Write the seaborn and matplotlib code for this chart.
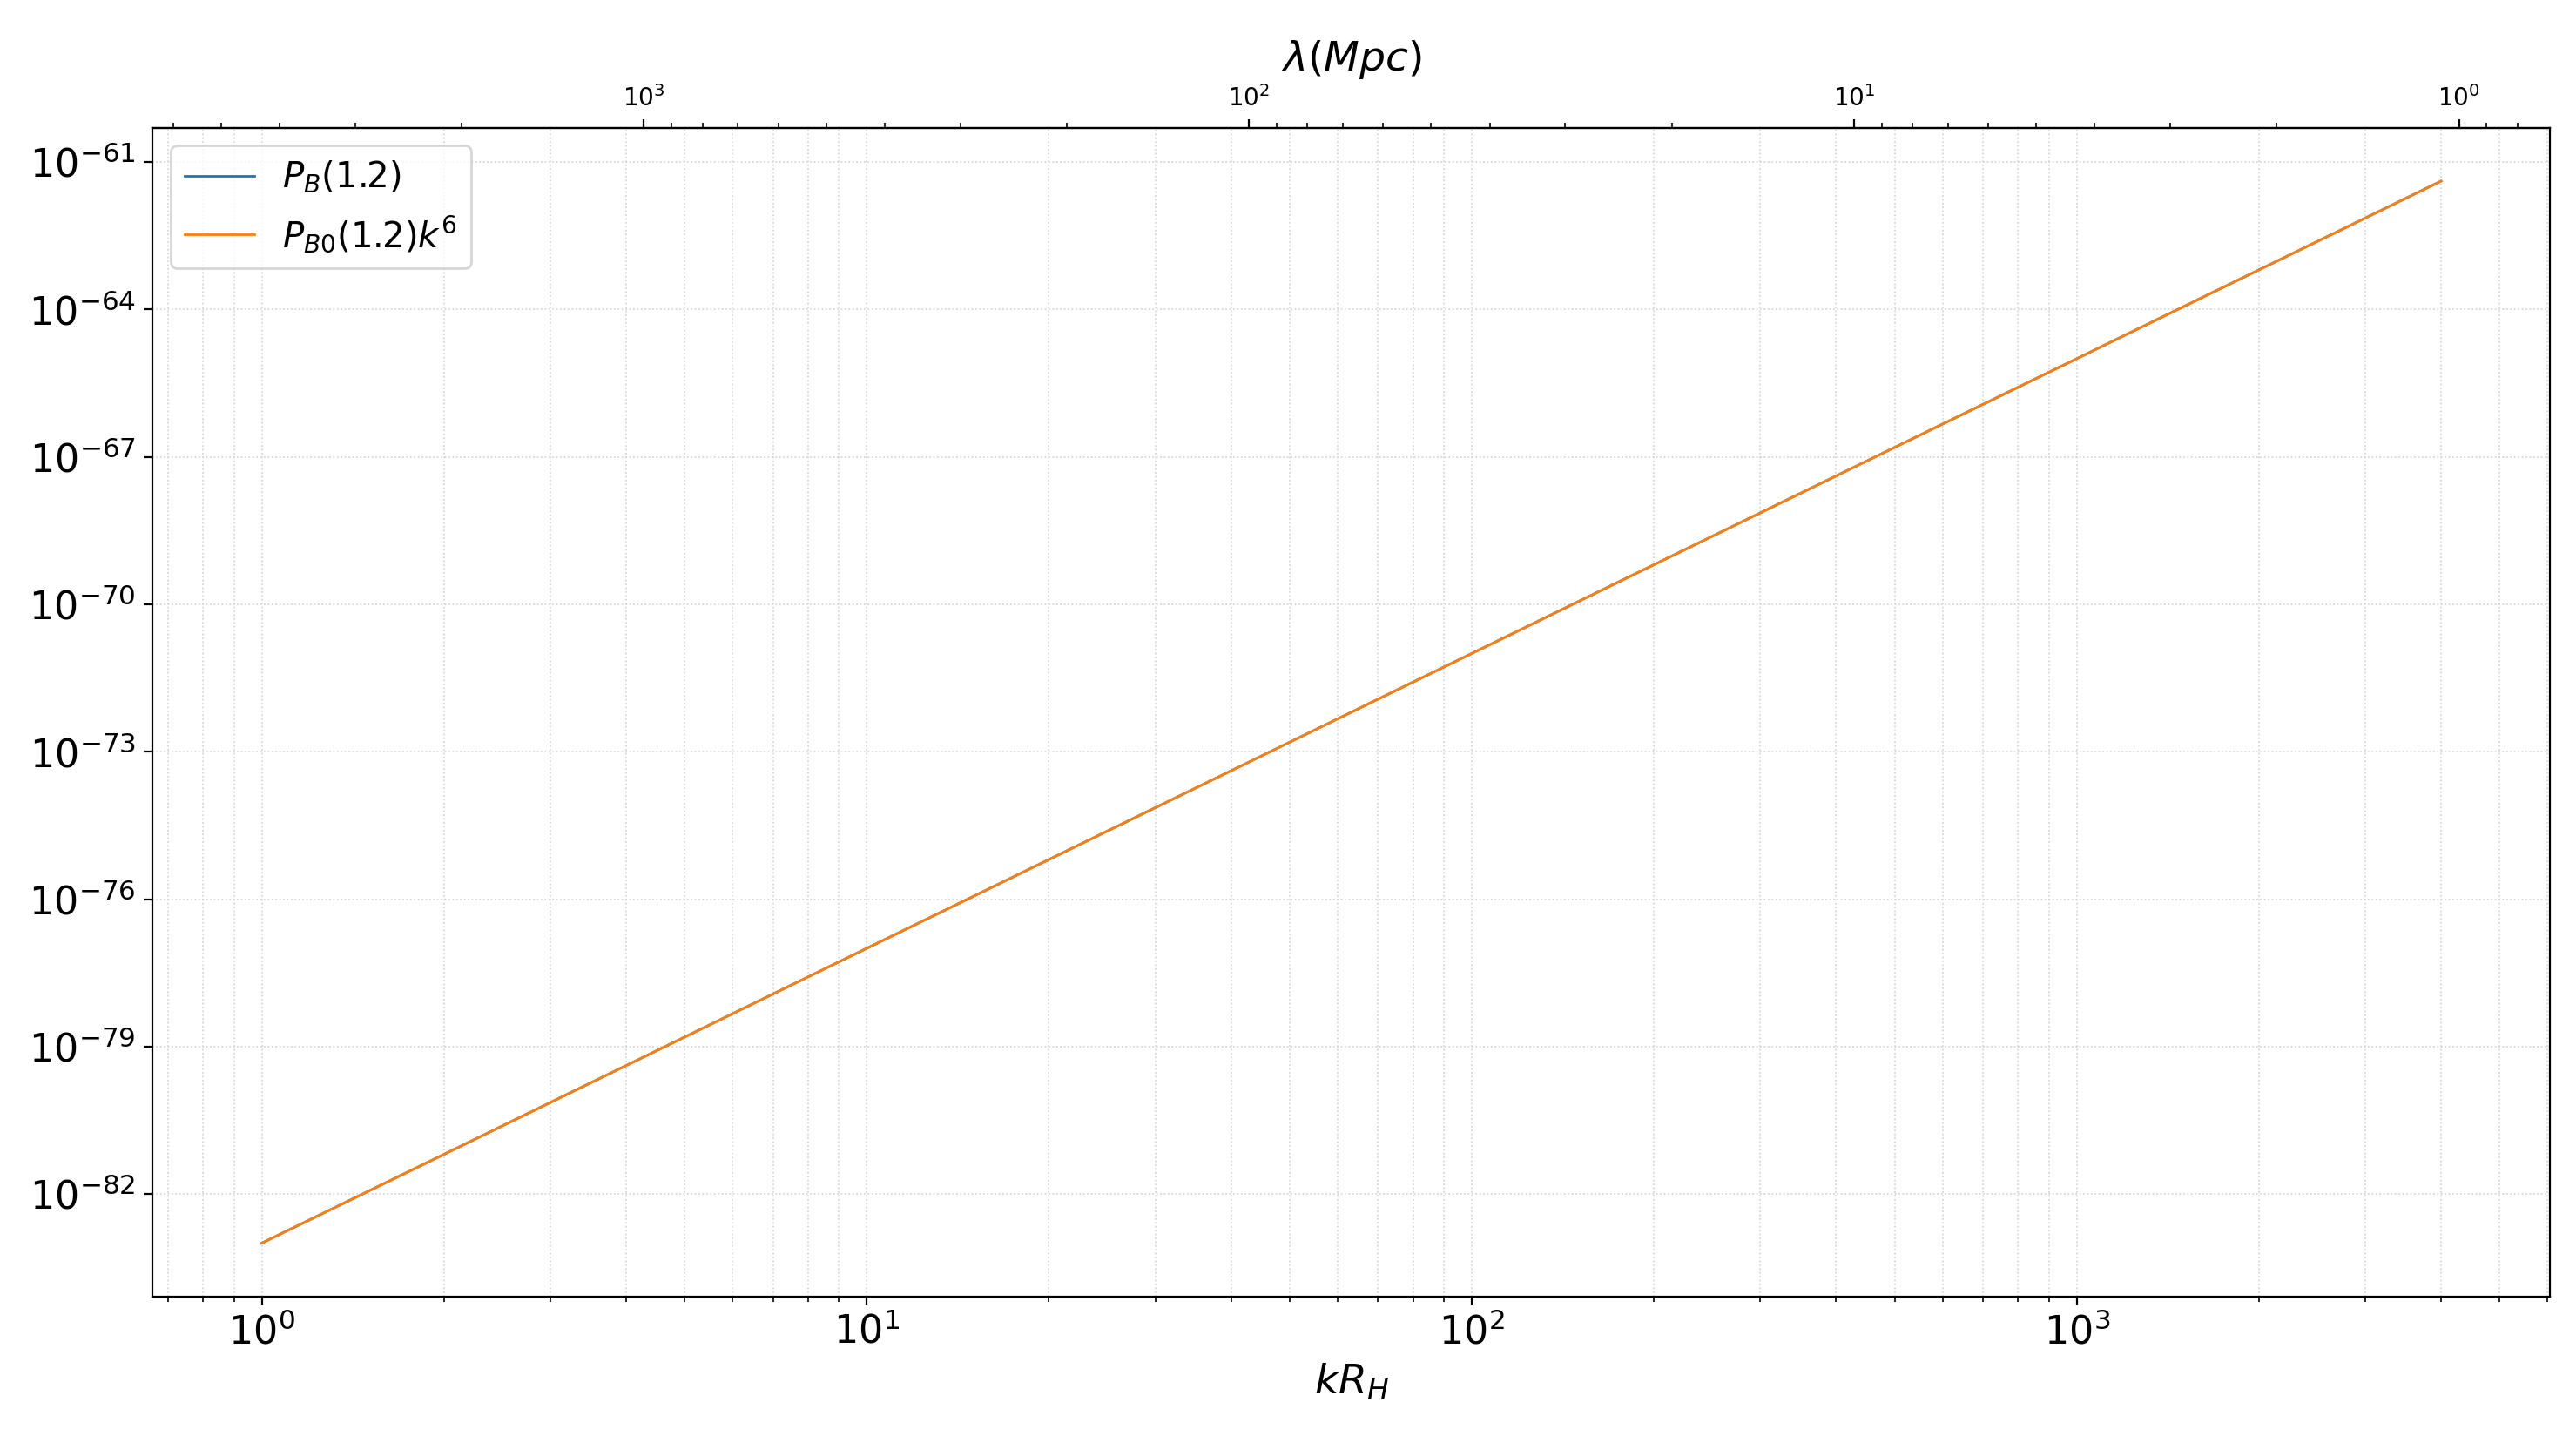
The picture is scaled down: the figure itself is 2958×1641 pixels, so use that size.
import numpy as np
import pandas as pd
import matplotlib
matplotlib.use("Agg")
import matplotlib.pyplot as plt
import matplotlib.ticker as tkr
import seaborn as sns

# values (log-log straight line, slope 6)
k_vals = [1.0, 10.0, 100.0, 1000.0, 4000.0]
pb_vals = [1e-83, 1e-77, 1e-71, 1e-65, 4.1e-62]
pb0_vals = [1e-83, 1e-77, 1e-71, 1e-65, 4.1e-62]
R_H = 4283.0  # Mpc, c/H0

df = pd.DataFrame({"k": k_vals, "PB": pb_vals, "PB0": pb0_vals})

fig, ax = plt.subplots(figsize=(14.79, 8.205), dpi=200)
fig.subplots_adjust(left=0.0593, right=0.9899, bottom=0.0929, top=0.9104)

sns.lineplot(data=df, x="k", y="PB", ax=ax, color="#1f77b4", lw=1.0,
             label=r"$P_B(1.2)$")
sns.lineplot(data=df, x="k", y="PB0", ax=ax, color="#ff7f0e", lw=1.0,
             label=r"$P_{B0}(1.2)k^6$")

ax.set_xscale("log")
ax.set_yscale("log")
ax.yaxis.set_minor_locator(tkr.NullLocator())
ax.grid(which="both", linestyle=":", color="0.82", linewidth=0.6)
ax.set_xlabel(r"$kR_H$", fontsize=17)
ax.set_ylabel("")
ax.tick_params(axis="both", which="major", labelsize=16)


def k_to_lam(k):
    with np.errstate(divide="ignore"):
        return R_H / np.asarray(k, dtype=float)


top = ax.secondary_xaxis("top", functions=(k_to_lam, k_to_lam))
top.set_xlabel(r"$\lambda(Mpc)$", fontsize=17, labelpad=6)
top.tick_params(axis="x", which="major", labelsize=10)

ax.legend(loc="upper left", fontsize=14.5)

fig.savefig("out.png", dpi=200)
